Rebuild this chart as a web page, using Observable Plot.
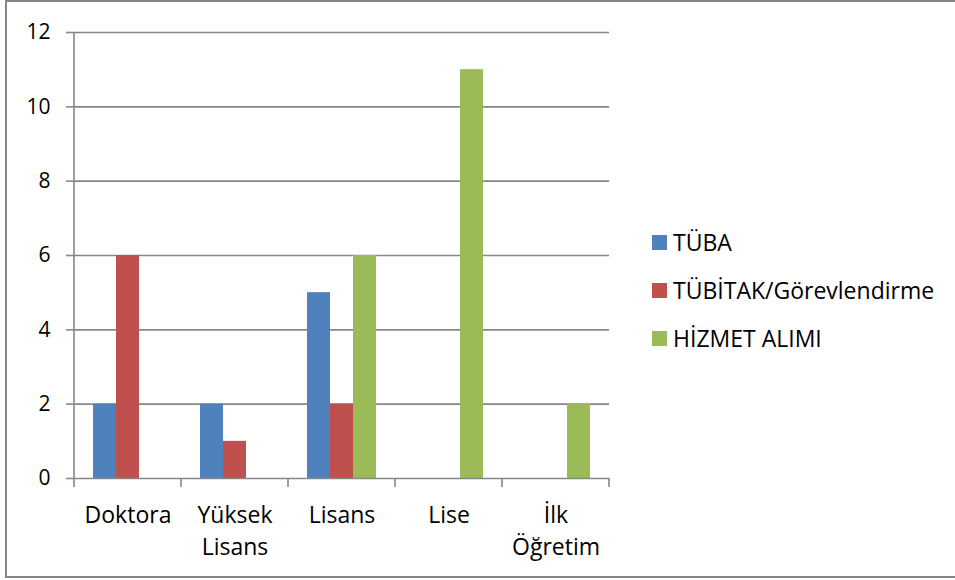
<!DOCTYPE html>
<html>
<head>
<meta charset="utf-8">
<script src="https://cdn.jsdelivr.net/npm/d3@7"></script>
<script src="https://cdn.jsdelivr.net/npm/@observablehq/plot@0.6"></script>
<style>
  html, body { margin: 0; padding: 0; background: #fff; overflow: hidden; }
  #wrap { position: relative; width: 955px; height: 580px; font-family: "Open Sans", sans-serif; }
  #border { position: absolute; left: 5px; top: 0px; width: 1000px; height: 574px; border: 2px solid #878787; }
  #chart { position: absolute; left: 0; top: 0; }
  #legend { position: absolute; left: 652px; top: 218px; font-size: 23px; color: #000; }
  #legend .row { display: flex; align-items: center; height: 48px; }
  #legend .sw { width: 15px; height: 15px; margin-right: 6px; }
</style>
</head>
<body>
<div id="wrap">
  <div id="border"></div>
  <div id="chart"></div>
  <div id="legend"></div>
</div>
<script>
const categories = ["Doktora", "Yüksek Lisans", "Lisans", "Lise", "İlk Öğretim"];
const categoryLabels = ["Doktora", "Yüksek\nLisans", "Lisans", "Lise", "İlk\nÖğretim"];
const seriesNames = ["TÜBA", "TÜBİTAK/Görevlendirme", "HİZMET ALIMI"];
const tubaValues = [2, 2, 5, 0, 0];
const tubitakValues = [6, 1, 2, 0, 0];
const hizmetValues = [0, 0, 6, 11, 2];
const seriesColors = ["#4F81BD", "#C0504D", "#9BBB59"];
const yTicks = [0, 2, 4, 6, 8, 10, 12];

const seriesValues = [tubaValues, tubitakValues, hizmetValues];
const data = categories.flatMap((c, i) =>
  seriesNames.map((s, j) => ({category: c, series: s, value: seriesValues[j][i]}))
);

const gridColor = "#878787";

const chart = Plot.plot({
  width: 955,
  height: 580,
  marginLeft: 73,
  marginRight: 346,
  marginTop: 32,
  marginBottom: 102,
  style: {fontFamily: "'Open Sans', sans-serif", color: "#000", background: "transparent"},
  fx: {domain: categories, padding: 0, axis: null},
  x: {domain: seriesNames, paddingInner: 0, paddingOuter: 0.76, axis: null},
  y: {domain: [0, 12], axis: null},
  color: {domain: seriesNames, range: seriesColors},
  marks: [
    Plot.ruleY(yTicks.filter(t => t > 0), {stroke: gridColor, strokeWidth: 1.6, strokeOpacity: 1}),
    Plot.barY(data, {fx: "category", x: "series", y: "value", fill: "series"}),
    Plot.ruleY([0], {stroke: gridColor, strokeWidth: 1.6, strokeOpacity: 1}),
    Plot.axisY(yTicks, {facetAnchor: "left", tickSize: 8, tickPadding: 16, stroke: gridColor, strokeWidth: 1.6, strokeOpacity: 1, fontSize: 21, fill: "#000", label: null}),
    Plot.text(categories, {
      fx: d => d,
      text: d => categoryLabels[categories.indexOf(d)],
      frameAnchor: "bottom",
      lineAnchor: "top",
      dy: 22,
      lineHeight: 1.38,
      fontSize: 23,
      fill: "#000"
    })
  ]
});

// Category boundary ticks and vertical axis line, positioned with Plot's own scales
const fxs = chart.scale("fx");
const ys = chart.scale("y");
const g = d3.select(chart).append("g").attr("stroke", gridColor).attr("stroke-width", 1.6);
const edges = categories.map(c => fxs.apply(c)).concat([fxs.apply(categories[categories.length - 1]) + fxs.bandwidth]);
const y0 = ys.apply(0), yTop = ys.apply(12);
edges.forEach(x => {
  g.append("line").attr("x1", x).attr("x2", x).attr("y1", y0).attr("y2", y0 + 9);
});
g.append("line").attr("x1", edges[0]).attr("x2", edges[0]).attr("y1", yTop).attr("y2", y0);

document.getElementById("chart").appendChild(chart);

const legend = document.getElementById("legend");
seriesNames.forEach((s, i) => {
  const row = document.createElement("div");
  row.className = "row";
  const sw = document.createElement("span");
  sw.className = "sw";
  sw.style.background = seriesColors[i];
  const t = document.createElement("span");
  t.textContent = s;
  row.appendChild(sw);
  row.appendChild(t);
  legend.appendChild(row);
});
</script>
</body>
</html>
